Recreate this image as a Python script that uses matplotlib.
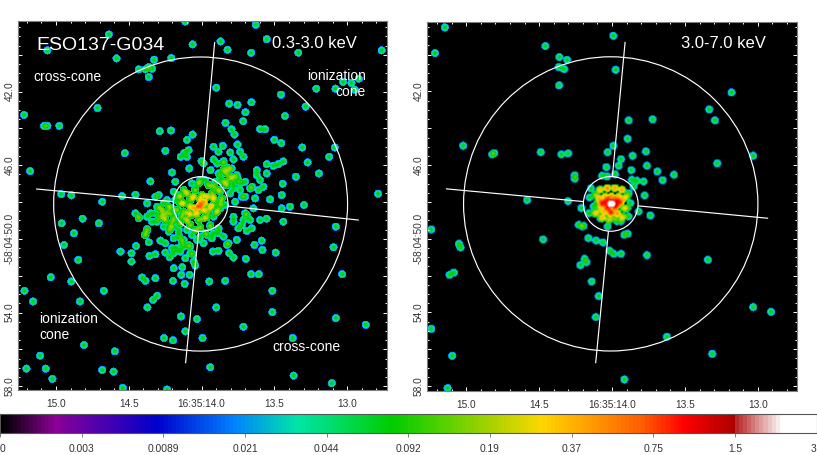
import numpy as np
import matplotlib
matplotlib.use('Agg')
import matplotlib.pyplot as plt
from matplotlib.colors import LinearSegmentedColormap
from matplotlib.patches import Ellipse

plt.rcParams['font.family'] = ['Liberation Sans', 'DejaVu Sans']

#%% EVENTS, sky pixels
# single events 0.3-3.0 keV
soft_spots = [(767,73),(325,102),(555,63),(577,132),(661,123),(800,116),(140,150),(682,148),(753,157),(895,157),
    (1146,150),(348,174),(461,178),(513,173),(415,207),(435,207),(445,200),(455,205),(445,230),(648,262),
    (1030,245),(1055,248),(1077,235),(949,265),(1007,265),(1065,268),(843,283),(291,323),(687,310),(712,314),
    (754,306),(917,319),(70,344),(736,336),(855,347),(130,377),(140,377),(176,377),(676,368),(729,363),
    (780,387),(795,387),(694,387),(703,403),(478,393),(512,391),(577,403),(560,419),(823,419),(844,429),
    (712,433),(907,442),(1005,442),(495,452),(373,459),(988,470),(923,487),(88,513),(957,520),(888,530),
    (1135,581),(182,582),(212,586),(305,605),(365,588),(405,584),(183,670),(246,656),(295,670),(848,551),(845,585),(912,615),
    (1008,680),(220,700),(190,735),(233,780),(360,755),(393,760),(393,785),(407,738),(445,727),(433,705),
    (440,687),(447,768),(465,763),(495,758),(480,722),(495,730),(515,745),(530,745),(545,730),(570,740),
    (540,715),(510,687),(580,785),(585,797),(508,772),(520,805),(546,802),(578,763),(150,832),(425,833),
    (435,843),(465,835),(518,843),(543,825),(568,825),(553,852),(212,845),(627,845),(675,843),(753,823),
    (776,823),(1027,823),(71,873),(310,873),(817,873),(97,905),(238,905),(470,888),(458,900),(441,923),
    (648,923),(817,937),(542,950),(590,958),(1008,955),(1098,975),(730,981),(555,995),(491,1015),(518,1022),
    (607,1015),(878,1015),(250,1036),(343,1055),(118,1068),(77,1107),(135,1107),(305,1111),(339,1116),(630,1103),
    (155,1138),(881,1128),(996,1151),(367,1165),(500,1170),(638,755),(655,753),(687,760),(700,773),(737,777),
    (763,735),(787,750),(785,722),(827,758),(685,730),(710,720),(1001,742),
    (715,685),(740,693),(600,710),(620,705),(680,735),(630,680),
    (565,450),(552,458),(541,470),(604,483),(567,505),(515,517),(450,544),
    (525,545),(640,440),(655,455),(668,437),(690,457),(720,455),(730,470),
    (850,484),(835,492),(800,492),(820,497),
    (560,470),(640,478),(610,490),(631,510),(651,490),(670,483),(700,478)]

# overlapping events around the nucleus, with counts
soft_core = [(598,617,10),(585,625,6),(612,608,6),(570,600,2),(605,585,3),(635,580,2),(655,570,2),(550,635,2),
    (560,660,3),(595,660,2),(625,635,2),(640,615,2),(620,652,2),(540,610,2),(575,645,2),(530,630,2),(665,595,2),
    (660,625,1),(595,550,2),(550,570,2),(535,585,1),(585,570,2),(625,555,2),(645,545,1),(665,545,1),(520,645,1),
    (675,615,1),(570,675,2),(600,682,2),(630,675,1),(540,670,2),(490,635,2),(505,620,2),(520,660,2),(495,660,2),
    (480,645,1),(680,520,2),(690,535,2),(675,545,2),(695,505,1),(655,520,1),(710,525,1),
    (700,550,1),(720,550,1),(735,545,1),(770,510,1),(770,525,1),(800,520,1),(750,565,1),(775,570,1),
    (765,595,1),(810,598,1),(725,590,1),(705,605,1),(735,590,1),(780,540,1),(790,560,1),(756,560,1),
    (405,640,1),(415,650,1),(415,655,1),(440,610,1),(465,590,1),(475,585,1),(440,692,1),(435,705,1),
    (475,655,1),(510,670,1),(535,690,1),(455,665,1),(510,680,1),(700,650,1),(735,640,1),(760,625,1),(730,660,1),
    (655,700,1),(615,700,1),(635,715,1),(655,685,1),(780,660,1),(800,656,1),(850,665,1),
    (845,625,1),(870,620,1),(700,665,1),(725,675,1),(755,685,1),(740,645,1),(750,660,1),(550,740,1),(565,735,1),
    (540,590,2),(560,580,3),(580,590,4),(600,600,4),(620,590,4),(640,595,4),(660,610,2),(650,635,3),(630,620,4),
    (610,630,4),(590,640,4),(570,620,4),(550,610,3),(545,650,2),(565,640,3),(610,655,2),(640,650,1),(585,690,2),
    (560,690,1),(600,540,1),(575,550,1),(615,540,1),(640,560,2),(660,575,1),(525,600,1),(515,625,1),
    (490,610,1),(470,620,1),(480,625,2),(465,640,1),(490,650,2),(505,640,2),(470,665,1),(490,680,1),(505,695,1),
    (520,680,1),(450,640,1),(440,650,1),(500,600,1),(520,575,1),
    (670,510,2),(685,505,2),(700,530,2),(680,555,2),(660,530,1),(715,540,1),(700,565,1),(720,570,1),(690,580,1),(670,490,1),
    (590,720,1),(575,705,1),(610,730,1),(535,705,1),(550,720,1),(520,715,1),(570,760,1),(555,775,1),(540,755,1),
    (520,760,1),(640,700,1),(670,710,1)]

# single events 3.0-7.0 keV
hard_spots = [(133,83),(639,108),(435,139),(103,160),(477,172),(500,180),(475,202),(491,208),(646,210),(476,257),
    (994,278),(927,329),(685,362),(757,359),(944,362),(682,417),(639,438),(188,438),(622,457),(737,455),
    (421,457),(483,464),(503,461),(275,464),(281,460),(697,468),(1059,468),(662,478),(951,491),(740,498),
    (655,498),(618,502),(693,511),(771,515),(821,525),(523,527),(523,537),(644,523),(605,528),(620,530),
    (787,541),(710,543),(730,545),(695,540),(572,566),(700,560),(733,587),(568,593),(380,601),(503,604),
    (543,625),(715,635),(750,647),(535,675),(550,678),(650,664),(662,664),(625,660),(580,640),(565,640),
    (92,689),(428,719),(175,732),(180,743),(147,825),(160,818),(92,987),(155,1068),(141,1165),(672,1139),
    (936,1062),(800,1011),(1059,922),(1113,936),(586,952),(595,889),(574,845),(540,796),(558,787),(553,777),
    (640,762),(662,762),(628,753),(608,728),(587,722),(564,715),(672,705),(682,702),(740,766),(923,780),
    (545,680),(622,680)]

# overlapping events around the nucleus, with counts
hard_core = [(633,612,50),(622,622,14),(645,620,14),(645,602,12),(622,602,12),(662,605,7),(605,610,7),(630,640,7),
    (598,570,2),(622,565,3),(642,565,2),(665,570,3),(680,590,2),(600,595,3),(600,630,2),(680,625,2),(655,645,2),
    (610,650,2),(585,640,2),(665,655,2),(600,655,1),(625,660,2),(685,650,1),(590,590,1),(590,610,1),(690,610,1),
    (610,610,8),(655,610,8),(633,590,7),(633,635,7),(615,590,5),(655,590,5),(650,640,5),(612,635,5),(600,620,3),
    (670,625,3),(672,595,3),(595,600,3),(620,565,4),(645,565,4),(665,570,3),(600,570,3),(590,640,2),(605,655,3),
    (640,655,2),(670,650,2),(585,585,2),(580,620,1),(685,580,1)]

# annuli and cone boundaries, sky pixels
soft_centre = (602, 612)
hard_centre = (632, 612)
outer_radius = 441
inner_radius = 82
soft_spokes = [[(644,128),(608,530)], [(110,567),(520,605)], [(684,618),(1075,660)], [(596,695),(557,1088)]]
hard_spokes = [[(675,128),(637,530)], [(140,567),(550,605)], [(715,618),(1102,655)], [(625,695),(587,1088)]]

ra_ticks = [15.0, 14.5, 14.0, 13.5, 13.0]
ra_labels = ['15.0', '14.5', '16:35:14.0', '13.5', '13.0']
dec_ticks = [42, 46, 50, 54, 58]
dec_labels = ['42.0', '46.0', '-58:04:50.0', '54.0', '58.0']

cbar_labels = ['0', '0.003', '0.0089', '0.021', '0.044', '0.092', '0.19', '0.37', '0.75', '1.5', '3']

#%% COLORMAP (ds9 sls like)
stops = [(0, (0,0,0)), (0.065, (140,0,150)), (0.19, (0,0,205)), (0.285, (0,130,255)), (0.363, (0,230,170)),
         (0.48, (0,205,0)), (0.665, (255,215,0)), (0.79, (255,90,0)), (0.84, (255,0,0)), (0.903, (170,0,0)),
         (0.904, (185,40,40)), (0.96, (255,255,255)), (1, (255,255,255))]
sls = LinearSegmentedColormap.from_list('sls', [(p, tuple(c/255 for c in col)) for p, col in stops], N=200)

#%% WCS
NPIX = 369
PEAK = 0.075 # one smoothed count
SIGMA = 7.0 # sky pixels
CUT = 12.5 # kernel radius, sky pixels

def to_ra(x, xref):
    return 14.0 - (np.asarray(x, float) - xref)/437.0

def to_dec(y):
    return 42.0 + (np.asarray(y, float) - 275)/55.2

def smooth_image(spots, core, xref, xlim, ylim):
    xs = np.array([s[0] for s in spots] + [c[0] for c in core], float)
    ys = np.array([s[1] for s in spots] + [c[1] for c in core], float)
    ns = np.array([1]*len(spots) + [c[2] for c in core], float)
    ra = to_ra(xs, xref)
    dec = to_dec(ys)
    ra_c = np.linspace(xlim[0], xlim[1], NPIX)
    dec_c = np.linspace(ylim[0], ylim[1], NPIX)
    img = np.zeros((NPIX, NPIX))
    for r, d, n in zip(ra, dec, ns):
        dx = (ra_c - r)*437.0
        dy = (dec_c - d)*55.2
        r2 = dx[None, :]**2 + dy[:, None]**2
        img += np.where(r2 < CUT**2, n*PEAK*np.exp(-0.5*r2/SIGMA**2), 0)
    return np.log(1000*img/3 + 1)/np.log(1000) # ds9 log scale

W, H = 817, 455
fig = plt.figure(figsize=(W/100, H/100), dpi=100)

def add_axes_px(x0, y0, x1, y1):
    return fig.add_axes([x0/W, 1 - y1/H, (x1 - x0)/W, (y1 - y0)/H])

def panel(box, xlim, ylim, spots, core, xref, centre, spokes):
    ax = add_axes_px(*box)
    img = smooth_image(spots, core, xref, xlim, ylim)
    ax.imshow(img, extent=[xlim[0], xlim[1], ylim[1], ylim[0]], origin='upper', cmap=sls, vmin=0, vmax=1,
              aspect='auto', interpolation='bilinear')
    ax.set_xlim(xlim)
    ax.set_ylim(ylim[1], ylim[0])
    ra0, dec0 = to_ra(centre[0], xref), to_dec(centre[1])
    for r in [outer_radius, inner_radius]:
        ax.add_patch(Ellipse((ra0, dec0), 2*r/437.0, 2*r/55.2, fill=False, ec='white', lw=0.85))
    for line in spokes:
        ax.plot(to_ra([line[0][0], line[1][0]], xref), to_dec([line[0][1], line[1][1]]), color='white', lw=0.85)
    ax.set_xticks(ra_ticks)
    ax.set_xticklabels(ra_labels)
    ax.set_xticks(np.arange(12.8, 15.25, 0.1), minor=True)
    ax.set_yticks(np.arange(40, 59, 2))
    ax.set_yticklabels([dec_labels[dec_ticks.index(v)] if v in dec_ticks else '' for v in np.arange(40, 59, 2)],
                       rotation=90, va='center')
    ax.set_yticks(np.arange(38.5, 58.5, 0.5), minor=True)
    ax.tick_params(which='major', direction='in', length=3, width=0.7, color='white', labelcolor='#333333',
                   labelsize=7.3, top=True, right=True)
    ax.tick_params(axis='x', which='major', pad=6.5)
    ax.tick_params(axis='y', which='major', pad=2)
    ax.tick_params(which='minor', direction='in', length=1.5, width=0.7, color='white', top=True, right=True)
    for s in ax.spines.values():
        s.set_color('#808080')
        s.set_linewidth(0.8)
    return ax

ax1 = panel((17.7, 21, 386.7, 390), (15.263, 12.729), (38.16, 58.21), soft_spots, soft_core, 605, soft_centre, soft_spokes)
ax2 = panel((426.7, 21.5, 796.7, 390.7), (15.271, 12.734), (38.2, 58.25), hard_spots, hard_core, 636, hard_centre, hard_spokes)

def label(x, y, s, size, ha='left'):
    fig.text(x/W, 1 - y/H, s, color='white', fontsize=size, ha=ha, va='center', linespacing=1.1)

label(36, 45, 'ESO137-G034', 14)
label(272, 43, '0.3-3.0 keV', 12)
label(681, 43, '3.0-7.0 keV', 12)
label(33, 77, 'cross-cone', 10)
label(366, 84, 'ionization\ncone', 10, ha='right')
label(39, 327, 'ionization\ncone', 10)
label(272, 347, 'cross-cone', 10)

#%% COLORBAR
cax = add_axes_px(0, 414, 816.5, 433)
cax.imshow(np.linspace(0, 1, 817)[None, :], extent=[0, 1, 0, 1], cmap=sls, vmin=0, vmax=1, aspect='auto')
cax.set_yticks([])
cax.set_xticks(np.linspace(0, 1, len(cbar_labels)))
cax.set_xticklabels(cbar_labels)
cax.tick_params(direction='out', length=3, width=0.7, color='#808080', labelcolor='#333333', labelsize=7.4, pad=5)
cax.get_xticklabels()[0].set_ha('left')
cax.get_xticklabels()[-1].set_ha('right')
for s in cax.spines.values():
    s.set_color('#555555')
    s.set_linewidth(0.8)

fig.savefig('out.png', dpi=100)
